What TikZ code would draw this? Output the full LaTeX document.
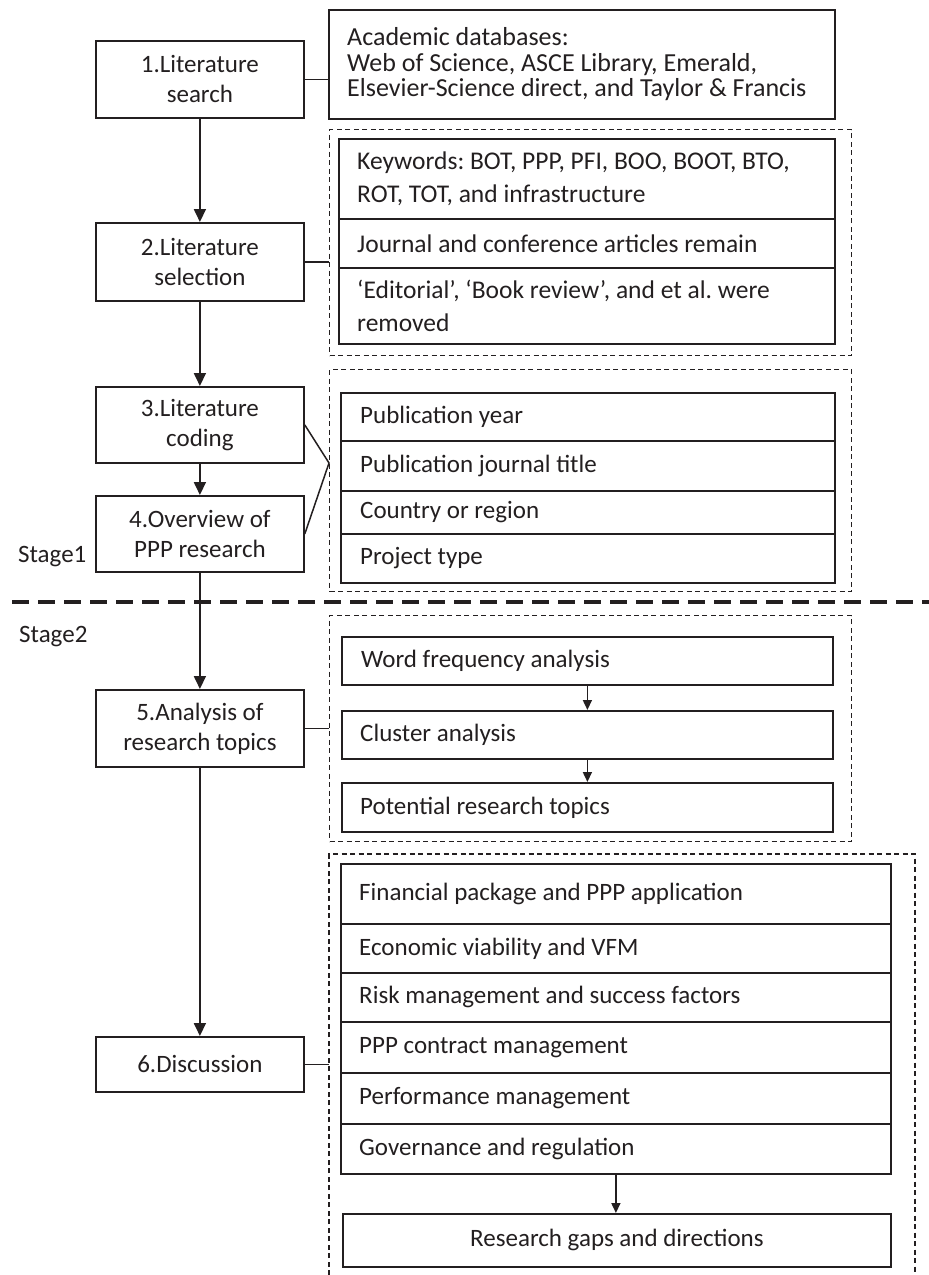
\documentclass[tikz,border=0pt]{standalone}
\usepackage{fontspec}
\setmainfont{Carlito}
\usetikzlibrary{arrows.meta}
\definecolor{ink}{HTML}{231F20}
\frenchspacing
\begin{document}
\begin{tikzpicture}[x=1pt,y=-1pt,
  font=\fontsize{25}{30}\selectfont, text=ink,
  stepbox/.style={draw=ink, line width=1.8pt, anchor=north west, inner sep=0pt,
    minimum width=208pt, align=center},
  cell/.style={draw=ink, line width=1.8pt, anchor=north west, inner sep=0pt},
  celltext/.style={anchor=west, align=left, inner sep=0pt},
  groupbox/.style={draw=ink, line width=1.2pt, dash pattern=on 5pt off 3.5pt,
    anchor=north west, inner sep=0pt},
  link/.style={draw=ink, line width=1.5pt},
  flow/.style={draw=ink, line width=1.8pt, -{Triangle[length=13pt,width=12pt]}},
  flowsm/.style={draw=ink, line width=1.6pt, -{Triangle[length=10pt,width=9pt]}},
  stageline/.style={draw=ink, line width=3.5pt, dash pattern=on 17pt off 9pt},
]
\useasboundingbox (0,0) rectangle (929,1275);

% ---- process steps (left column) ----
\node[stepbox, minimum height=77pt] (s1) at (95,40)   {1.Literature\\search};
\node[stepbox, minimum height=78pt] (s2) at (95,222)  {2.Literature\\selection};
\node[stepbox, minimum height=76pt] (s3) at (95,386)  {3.Literature\\coding};
\node[stepbox, minimum height=76pt] (s4) at (95,495)  {4.Overview of\\PPP research};
\node[stepbox, minimum height=77pt] (s5) at (95,689)  {5.Analysis of\\research topics};
\node[stepbox, minimum height=55pt] (s6) at (95,1036) {6.Discussion};

\draw[flow] (s1) -- (s2);
\draw[flow] (s2) -- (s3);
\draw[flow] (s3) -- (s4);
\draw[flow] (s4) -- (s5);
\draw[flow] (s5) -- (s6);

% ---- step 1: databases ----
\node[cell, minimum width=506pt, minimum height=109pt] (db) at (328,9) {};
\node[celltext, font=\fontsize{26}{25.5}\selectfont] (dbt) at ([xshift=19pt]db.west)
  {Academic databases:\\Web of Science, ASCE Library, Emerald,\\Elsevier-Science direct, and Taylor \& Francis};
\draw[link] (s1.east) -- (s1.east -| db.west);

% ---- step 2: selection criteria ----
\node[groupbox, minimum width=522pt, minimum height=226pt] (gA) at (329,129) {};
\node[cell, minimum width=496pt, minimum height=80pt] (a1) at (338,138) {};
\node[cell, minimum width=496pt, minimum height=49pt] (a2) at (338,218) {};
\node[cell, minimum width=496pt, minimum height=76pt] (a3) at (338,267) {};
\node[celltext, font=\fontsize{25.5}{33}\selectfont] at ([xshift=19pt]a1.west)
  {Keywords: BOT, PPP, PFI, BOO, BOOT, BTO,\\ROT, TOT, and infrastructure};
\node[celltext, font=\fontsize{25.5}{33}\selectfont] at ([xshift=19pt]a2.west)
  {Journal and conference articles remain};
\node[celltext, font=\fontsize{25.5}{33}\selectfont] at ([xshift=19pt]a3.west)
  {‘Editorial’, ‘Book review’, and et al. were\\removed};
\draw[link] (s2.east) -- (s2.east -| gA.west);

% ---- steps 3 and 4: coding items ----
\node[groupbox, minimum width=522pt, minimum height=222pt] (gB) at (329,369) {};
\node[cell, minimum width=494pt, minimum height=48pt] (b1) at (340,392) {};
\node[cell, minimum width=494pt, minimum height=50pt] (b2) at (340,440) {};
\node[cell, minimum width=494pt, minimum height=43pt] (b3) at (340,490) {};
\node[cell, minimum width=494pt, minimum height=49pt] (b4) at (340,533) {};
\node[celltext] at ([xshift=20pt]b1.west) {Publication year};
\node[celltext] at ([xshift=20pt]b2.west) {Publication journal title};
\node[celltext] at ([xshift=20pt]b3.west) {Country or region};
\node[celltext] at ([xshift=20pt]b4.west) {Project type};
\coordinate (apex) at (329,463);
\draw[link] (s3.east) -- (apex) -- (s4.east);

% ---- stage divider ----
\node[anchor=base west, inner sep=0pt] (st1) at (18,562) {Stage1};
\draw[stageline] (12,602) -- (929,602);
\node[anchor=base west, inner sep=0pt] (st2) at (19,642) {Stage2};

% ---- step 5: topic analysis ----
\node[groupbox, minimum width=522pt, minimum height=226pt] (gC) at (329,615) {};
\node[cell, minimum width=491pt, minimum height=48pt] (c1) at (341,636) {};
\node[cell, minimum width=491pt, minimum height=48pt] (c2) at (341,710) {};
\node[cell, minimum width=491pt, minimum height=49pt] (c3) at (341,782) {};
\node[celltext] at ([xshift=20pt]c1.west) {Word frequency analysis};
\node[celltext] at ([xshift=19pt]c2.west) {Cluster analysis};
\node[celltext] at ([xshift=19pt]c3.west) {Potential research topics};
\draw[flowsm] (c1) -- (c2);
\draw[flowsm] (c2) -- (c3);
\draw[link] (s5.east) -- (s5.east -| gC.west);

% ---- step 6: discussion themes ----
\coordinate (dNW) at (329,854);
\coordinate (dNE) at (915,854);
\draw[draw=ink, line width=1.2pt, dash pattern=on 5pt off 3.5pt]
  (329,1275) -- (dNW) -- (dNE) -- (915,1275);
\node[cell, minimum width=550pt, minimum height=60pt] (d1) at (340,863) {};
\node[cell, minimum width=550pt, minimum height=49pt] (d2) at (340,923) {};
\node[cell, minimum width=550pt, minimum height=49pt] (d3) at (340,972) {};
\node[cell, minimum width=550pt, minimum height=51pt] (d4) at (340,1021) {};
\node[cell, minimum width=550pt, minimum height=51pt] (d5) at (340,1072) {};
\node[cell, minimum width=550pt, minimum height=50pt] (d6) at (340,1123) {};
\node[celltext] at ([xshift=19pt]d1.west) {Financial package and PPP application};
\node[celltext] at ([xshift=19pt]d2.west) {Economic viability and VFM};
\node[celltext] at ([xshift=19pt]d3.west) {Risk management and success factors};
\node[celltext] at ([xshift=19pt]d4.west) {PPP contract management};
\node[celltext] at ([xshift=19pt]d5.west) {Performance management};
\node[celltext] at ([xshift=19pt]d6.west) {Governance and regulation};
\node[cell, anchor=north west, minimum width=548pt, minimum height=53pt] (rg) at (342,1213)
  {Research gaps and directions};
\draw[flowsm] (d6.south) -- (d6.south |- rg.north);
\draw[link] (s6.east) -- (s6.east -| dNW);

\end{tikzpicture}
\end{document}
